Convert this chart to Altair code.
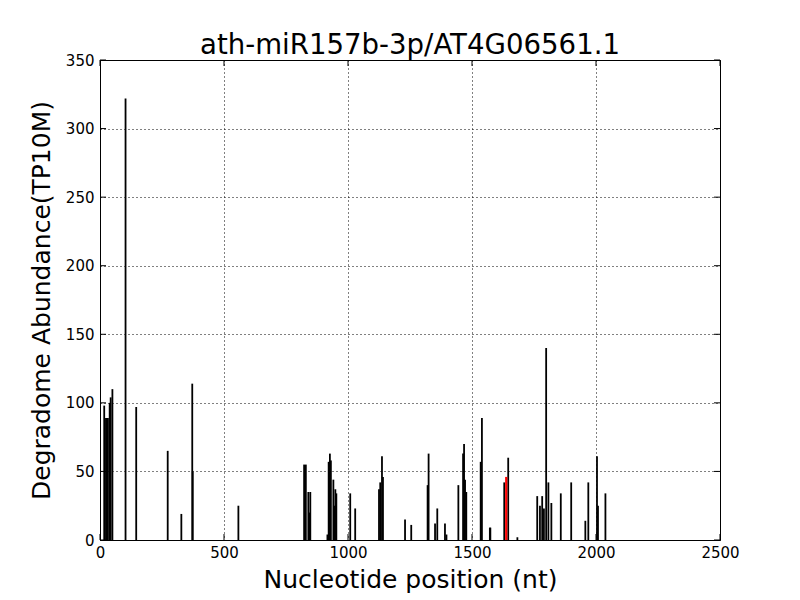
import altair as alt
import pandas as pd

title_text = "ath-miR157b-3p/AT4G06561.1"
positions = [17, 24, 28, 32, 39, 43, 50, 103, 146, 273, 328, 372, 374, 558,
             823, 830, 840, 844, 848, 917, 922, 927, 931, 941, 945, 949, 953,
             1009, 1029, 1125, 1130, 1137, 1141, 1230, 1255, 1321, 1325, 1351,
             1360, 1391, 1397, 1445, 1464, 1468, 1472, 1477, 1535, 1540, 1572,
             1574, 1630, 1646, 1683, 1763, 1774, 1783, 1790, 1799, 1808, 1820,
             1858, 1900, 1957, 1969, 2004, 2008, 2038]
abundance = [98, 89, 89, 89, 100, 104, 110, 322, 97, 65, 19, 114, 50, 25,
             55, 55, 35, 20, 35, 4, 57, 63, 58, 44, 25, 37, 34,
             34, 23, 37, 42, 61, 46, 15, 11, 40, 63, 12,
             23, 12, 4, 40, 63, 70, 44, 35, 57, 89, 9,
             9, 42, 60, 2, 32, 25, 32, 23, 140, 42, 27,
             34, 42, 14, 42, 61, 25, 34]
target_pos = [1638]
target_val = [46]
x_ticks = [0, 500, 1000, 1500, 2000, 2500]
y_ticks = [0, 50, 100, 150, 200, 250, 300, 350]

W, H = 620, 480
df = pd.DataFrame({"pos": positions, "val": abundance})
dft = pd.DataFrame({"pos": target_pos, "val": target_val})
dxt = pd.DataFrame({"t": x_ticks})
dyt = pd.DataFrame({"t": y_ticks})

xscale = alt.Scale(domain=[0, 2500], nice=False, zero=False)
yscale = alt.Scale(domain=[0, 350], nice=False)

xaxis = alt.Axis(values=x_ticks, ticks=False, grid=True, gridDash=[1, 3],
                 gridColor="black", gridOpacity=1, gridWidth=1, format="d",
                 labelFlush=False, labelOverlap=False,
                 labelFontSize=15, labelColor="black", labelPadding=5,
                 domainColor="black", title="Nucleotide position (nt)",
                 titleFontSize=25, titleFontWeight="normal", titleColor="black",
                 titlePadding=7)
yaxis = alt.Axis(values=y_ticks, ticks=False, grid=True, gridDash=[1, 3],
                 gridColor="black", gridOpacity=1, gridWidth=1, format="d",
                 labelFlush=False, labelOverlap=False,
                 labelFontSize=15, labelColor="black", labelPadding=6,
                 domainColor="black", title="Degradome Abundance(TP10M)",
                 titleFontSize=25, titleFontWeight="normal", titleColor="black",
                 titlePadding=11)

bars = alt.Chart(df).mark_rule(color="black", strokeWidth=1.8).encode(
    x=alt.X("pos:Q", scale=xscale, axis=xaxis),
    y=alt.Y("val:Q", scale=yscale, axis=yaxis),
    y2=alt.datum(0),
)
red = alt.Chart(dft).mark_rule(color="red", strokeWidth=2.2).encode(
    x=alt.X("pos:Q", scale=xscale),
    y=alt.Y("val:Q", scale=yscale),
    y2=alt.datum(0),
)
tick_b = alt.Chart(dxt).mark_rule(color="black", strokeWidth=1).encode(
    x=alt.X("t:Q", scale=xscale), y=alt.value(H), y2=alt.value(H - 6))
tick_t = alt.Chart(dxt).mark_rule(color="black", strokeWidth=1).encode(
    x=alt.X("t:Q", scale=xscale), y=alt.value(0), y2=alt.value(6))
tick_l = alt.Chart(dyt).mark_rule(color="black", strokeWidth=1).encode(
    y=alt.Y("t:Q", scale=yscale), x=alt.value(0), x2=alt.value(6))
tick_r = alt.Chart(dyt).mark_rule(color="black", strokeWidth=1).encode(
    y=alt.Y("t:Q", scale=yscale), x=alt.value(W), x2=alt.value(W - 6))

chart = alt.layer(bars, red, tick_b, tick_t, tick_l, tick_r).properties(
    width=W, height=H,
    title=alt.TitleParams(title_text, fontSize=27.6, fontWeight="normal",
                          color="black", offset=-7),
    autosize=alt.AutoSizeParams(type="none"),
    padding={"left": 92, "top": 52, "right": 70, "bottom": 56},
).configure(font="DejaVu Sans").configure_view(
    stroke="black", strokeWidth=1
).configure_axis(labelFont="DejaVu Sans", titleFont="DejaVu Sans")

chart.save("out.html", embed_options={"renderer": "svg", "actions": False})
